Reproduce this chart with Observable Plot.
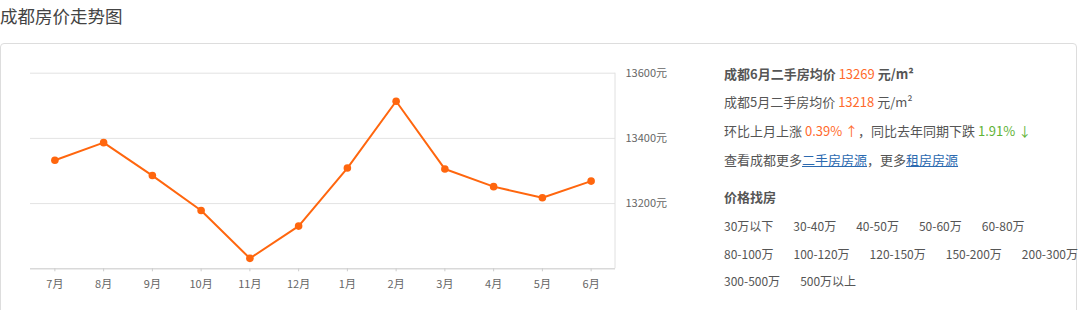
<!DOCTYPE html>
<html><head><meta charset="utf-8">
<script src="https://cdn.jsdelivr.net/npm/d3@7"></script>
<script src="https://cdn.jsdelivr.net/npm/@observablehq/plot@0.6"></script>
<style>
body{margin:0;width:1080px;height:310px;overflow:hidden;background:#fff;font-family:"Noto Sans CJK SC","Noto Sans",sans-serif;position:relative;}
#title{position:absolute;left:0;top:4px;line-height:24px;font-size:17.5px;color:#444;}
#box{position:absolute;left:0;top:43px;width:1077px;height:300px;border:1px solid #ddd;border-radius:4px;box-sizing:border-box;}
#chart{position:absolute;left:0;top:50px;}
#info{position:absolute;left:724px;top:0;color:#555;font-size:13px;}
.ln{position:absolute;left:0;white-space:nowrap;line-height:20px;}
.or{color:#ff6a2b;}
.gr{color:#5fb336;}
a{color:#2c6ab0;text-decoration:underline;}
.row span{display:inline-block;margin-right:20px;font-size:12px;color:#555;}
</style></head>
<body>
<div id="title">成都房价走势图</div>
<div id="box"></div>
<div id="chart"></div>
<div id="info">
  <div class="ln" style="top:64px;font-weight:bold;">成都6月二手房均价 <span class="or" style="font-weight:normal">13269</span> 元/m²</div>
  <div class="ln" style="top:92px;">成都5月二手房均价 <span class="or">13218</span> 元/m²</div>
  <div class="ln" style="top:121px;">环比上月上涨 <span class="or">0.39% ↑</span>，同比去年同期下跌 <span class="gr">1.91% ↓</span></div>
  <div class="ln" style="top:150px;">查看成都更多<a>二手房房源</a>，更多<a>租房房源</a></div>
  <div class="ln" style="top:187px;font-weight:bold;">价格找房</div>
  <div class="ln row" id="r1" style="top:216px;"></div>
  <div class="ln row" id="r2" style="top:244px;"></div>
  <div class="ln row" id="r3" style="top:271px;"></div>
</div>
<script>
const months = ["7月","8月","9月","10月","11月","12月","1月","2月","3月","4月","5月","6月"];
const prices = [13333,13387,13286,13179,13032,13131,13309,13514,13306,13252,13218,13269];
const yTicks = [13200,13400,13600];
const priceRanges1 = ["30万以下","30-40万","40-50万","50-60万","60-80万"];
const priceRanges2 = ["80-100万","100-120万","120-150万","150-200万","200-300万"];
const priceRanges3 = ["300-500万","500万以上"];

[[priceRanges1,"r1"],[priceRanges2,"r2"],[priceRanges3,"r3"]].forEach(([arr,id])=>{
  const el=document.getElementById(id);
  arr.forEach(t=>{const s=document.createElement("span");s.textContent=t;el.appendChild(s);});
});

const data = months.map((m,i)=>({month:m, price:prices[i]}));
const color = "#ff660e";
const chart = Plot.plot({
  width: 680, height: 260,
  marginLeft: 30, marginRight: 65, marginTop: 22.7, marginBottom: 41.7,
  style: {fontFamily: '"Noto Sans CJK SC", sans-serif', fontSize: "11px", color: "#666", background: "transparent"},
  x: {type: "point", domain: months, padding: 0.5, round: false, label: null},
  y: {domain: [13000, 13600], label: null},
  marks: [
    Plot.gridY(yTicks, {stroke: "#e3e3e3", strokeOpacity: 1}),
    Plot.ruleY([13000], {stroke: "#d9d9d9", strokeWidth: 1.5}),
    Plot.axisX({tickSize: 3, tickPadding: 8, stroke: "#ccc", fill: "#666", label: null}),
    Plot.axisY(yTicks, {anchor: "right", tickSize: 0, tickPadding: 10, tickFormat: d => d + "元", fill: "#666", label: null}),
    Plot.line(data, {x: "month", y: "price", stroke: color, strokeWidth: 2}),
    Plot.dot(data, {x: "month", y: "price", r: 3.8, fill: color})
  ]
});
document.getElementById("chart").appendChild(chart);
// right border of plot area
const sy = chart.scale("y");
d3.select(chart).append("line").attr("x1", 615).attr("x2", 615)
  .attr("y1", sy.apply(13600)).attr("y2", sy.apply(13000)).attr("stroke", "#e0e0e0");
</script>
</body></html>
